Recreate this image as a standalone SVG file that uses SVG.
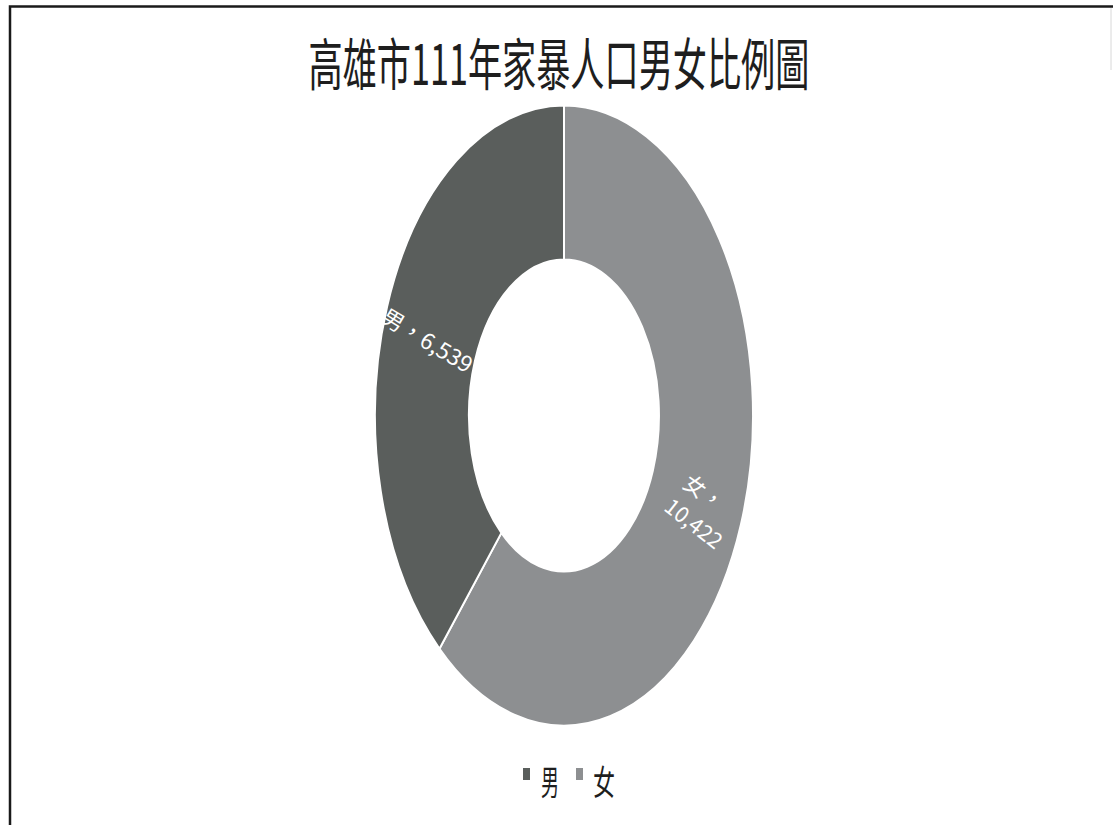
<svg xmlns="http://www.w3.org/2000/svg" width="1113" height="825" viewBox="0 0 1113 825">
<style>
  .cjk { font-family: "Noto Sans CJK TC", "Noto Sans CJK SC", "Liberation Serif", serif; }
  .title { font-size: 56px; fill: #1e1e1e; }
  .lbl { font-size: 22px; fill: #ffffff; }
  .leg { font-size: 34px; fill: #1e1e1e; }
  .male { fill: #5a5e5c; }
  .female { fill: #8d8f91; }
  .seg { stroke: #ffffff; stroke-width: 2; }
</style>
<rect x="0" y="0" width="1113" height="825" fill="#ffffff"/>
<g id="frame">
  <path d="M10,825 V6.5 H1113" fill="none" stroke="#1a1a1a" stroke-width="2.5"/>
  <line x1="1111" y1="8" x2="1111" y2="70" stroke="#d8d8d8" stroke-width="1"/>
</g>
<g id="title">
  <text class="cjk title" transform="translate(559,85) scale(0.61,1)" x="0" y="0" text-anchor="middle">高雄市111年家暴人口男女比例圖</text>
</g>
<g id="slice-female">
  <path class="female seg" d="M564,105.5 A189,310 0 1 1 439.5,648.7 L501.4,532.9 A95,156 0 1 0 564,259.5 Z"/>
  <text class="cjk lbl" transform="translate(705,491) rotate(35)" text-anchor="middle" dominant-baseline="central">女，</text>
  <text class="cjk lbl" transform="translate(695,522) rotate(38)" text-anchor="middle" dominant-baseline="central" textLength="66" lengthAdjust="spacingAndGlyphs">10,422</text>
</g>
<g id="slice-male">
  <path class="male seg" d="M439.5,648.7 A189,310 0 0 1 564,105.5 L564,259.5 A95,156 0 0 0 501.4,532.9 Z"/>
  <text class="cjk lbl" transform="translate(428,339) rotate(31)" text-anchor="middle" dominant-baseline="central" textLength="102" lengthAdjust="spacingAndGlyphs">男，6,539</text>
</g>
<g id="legend">
  <rect class="male" x="523" y="768" width="7" height="12"/>
  <text class="cjk leg" x="550" y="795" text-anchor="middle" textLength="18" lengthAdjust="spacingAndGlyphs">男</text>
  <rect class="female" x="576" y="768" width="7" height="12"/>
  <text class="cjk leg" x="604" y="795" text-anchor="middle" textLength="22" lengthAdjust="spacingAndGlyphs">女</text>
</g>
</svg>
